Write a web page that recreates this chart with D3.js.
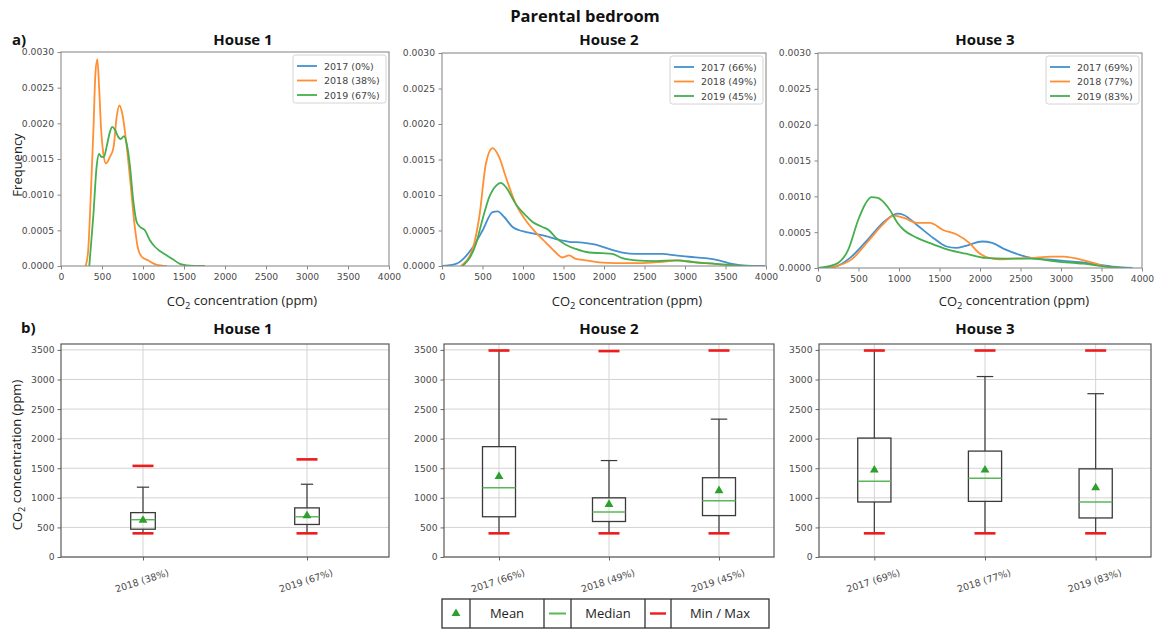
<!DOCTYPE html>
<html>
<head>
<meta charset="utf-8">
<script src="https://cdn.jsdelivr.net/npm/d3@7"></script>
<style>
  body { margin: 0; background: #fff; }
  svg { display: block; }
</style>
</head>
<body>
<svg id="chart" width="1169" height="630"></svg>
<script>
// ---------- data ----------
const houses = ["House 1", "House 2", "House 3"];
const years = ["2017", "2018", "2019"];
const seriesColors = ["#4590cf", "#ff8f33", "#45ae4d"];

// legend labels of the density plots (share of valid data per year)
const legendH1 = ["2017 (0%)", "2018 (38%)", "2019 (67%)"];
const legendH2 = ["2017 (66%)", "2018 (49%)", "2019 (45%)"];
const legendH3 = ["2017 (69%)", "2018 (77%)", "2019 (83%)"];

// kernel density estimates: [CO2 ppm, frequency]
const kdeH1_2017 = [];
const kdeH1_2018 = [[300,0],[330,0.0002],[360,0.0009],[395,0.0019],[420,0.0027],[443,0.0029],[465,0.0025],[490,0.0019],[516,0.00158],[548,0.00144],[597,0.00153],[640,0.00166],[680,0.0021],[711,0.00225],[750,0.00212],[792,0.00177],[840,0.00125],[900,0.00055],[940,0.00024],[985,0.00013],[1060,0.00008],[1160,0.00002],[1290,0]];
const kdeH1_2019 = [[345,0],[394,0.0007],[435,0.0014],[463,0.00157],[495,0.00153],[524,0.00153],[556,0.00167],[597,0.00188],[625,0.00195],[658,0.00191],[698,0.00181],[727,0.00178],[768,0.00182],[800,0.00172],[841,0.0014],[881,0.00092],[922,0.00062],[962,0.00055],[1023,0.0005],[1084,0.00036],[1145,0.00027],[1206,0.00021],[1287,0.00015],[1369,0.00009],[1450,0.00003],[1531,0.00001],[1754,0]];

const kdeH2_2017 = [[0,0],[172,0.00003],[378,0.00026],[501,0.0005],[624,0.00076],[686,0.00077],[768,0.00069],[871,0.00055],[994,0.00049],[1159,0.00045],[1282,0.00042],[1405,0.00038],[1569,0.00034],[1734,0.00033],[1898,0.0003],[2062,0.00024],[2227,0.00019],[2391,0.00017],[2555,0.00017],[2720,0.00017],[2884,0.00015],[3048,0.00013],[3254,0.00011],[3418,0.00008],[3583,0.00003],[3747,0.000005],[3985,0]];
const kdeH2_2018 = [[234,0],[378,0.00024],[460,0.00069],[542,0.00144],[624,0.00166],[707,0.00153],[789,0.00125],[912,0.00087],[1035,0.00064],[1159,0.00047],[1282,0.00033],[1405,0.00019],[1487,0.00012],[1569,0.00015],[1652,0.0001],[1775,0.00008],[1939,0.00005],[2144,0.00004],[2432,0.00004],[2720,0.00006],[2925,0.00008],[3130,0.00005],[3377,0.00003],[3541,0.00001],[3665,0]];
const kdeH2_2019 = [[255,0],[419,0.00031],[501,0.00066],[583,0.00097],[666,0.00113],[727,0.00117],[789,0.00111],[912,0.00087],[1035,0.00071],[1118,0.00062],[1241,0.00055],[1323,0.0005],[1405,0.0004],[1528,0.0003],[1652,0.00024],[1816,0.00019],[1980,0.00018],[2103,0.00017],[2227,0.00011],[2391,0.00008],[2638,0.00007],[2884,0.00008],[3130,0.00005],[3377,0.00003],[3624,0.00001],[3870,0]];

const kdeH3_2017 = [[0,0],[214,0.00002],[415,0.00016],[617,0.0004],[819,0.00065],[980,0.00076],[1060,0.00074],[1222,0.0006],[1423,0.00042],[1585,0.0003],[1706,0.00028],[1827,0.00031],[2028,0.00037],[2149,0.00035],[2310,0.00026],[2472,0.00019],[2633,0.00014],[2835,0.00012],[3036,0.0001],[3238,0.00008],[3440,0.00005],[3641,0.00002],[3883,0]];
const kdeH3_2018 = [[133,0],[415,0.00012],[617,0.00037],[778,0.00058],[940,0.00073],[1060,0.0007],[1222,0.00063],[1383,0.00063],[1544,0.00053],[1706,0.00047],[1867,0.00035],[1988,0.00021],[2109,0.00014],[2230,0.00012],[2391,0.00013],[2633,0.00014],[2875,0.00016],[3036,0.00016],[3198,0.00013],[3399,0.00007],[3560,0.00002],[3762,0]];
const kdeH3_2019 = [[0,0],[214,0.00005],[375,0.00026],[496,0.00067],[577,0.00088],[657,0.00099],[738,0.00098],[819,0.00091],[899,0.00079],[980,0.00063],[1060,0.00053],[1222,0.00042],[1423,0.00033],[1625,0.00025],[1827,0.0002],[2069,0.00014],[2310,0.00013],[2633,0.00013],[2956,0.00009],[3278,0.00006],[3560,0.00002],[3802,0]];

const kdeTicksX = [0, 500, 1000, 1500, 2000, 2500, 3000, 3500, 4000];
const kdeTicksY = [0, 0.0005, 0.001, 0.0015, 0.002, 0.0025, 0.003];

// box plot statistics (ppm)
const boxH1Labels = ["2018 (38%)", "2019 (67%)"];
const boxH1Min    = [400, 400];
const boxH1Q1     = [470, 550];
const boxH1Median = [630, 680];
const boxH1Mean   = [620, 700];
const boxH1Q3     = [750, 830];
const boxH1WhiskHi = [1180, 1230];
const boxH1Max    = [1540, 1650];

const boxH2Labels = ["2017 (66%)", "2018 (49%)", "2019 (45%)"];
const boxH2Min    = [400, 400, 400];
const boxH2Q1     = [680, 600, 700];
const boxH2Median = [1170, 760, 950];
const boxH2Mean   = [1360, 890, 1120];
const boxH2Q3     = [1865, 1000, 1340];
const boxH2WhiskHi = [3490, 1630, 2330];
const boxH2Max    = [3490, 3480, 3490];

const boxH3Labels = ["2017 (69%)", "2018 (77%)", "2019 (83%)"];
const boxH3Min    = [400, 400, 400];
const boxH3Q1     = [930, 940, 660];
const boxH3Median = [1280, 1330, 930];
const boxH3Mean   = [1470, 1470, 1170];
const boxH3Q3     = [2010, 1790, 1490];
const boxH3WhiskHi = [3490, 3050, 2760];
const boxH3Max    = [3490, 3490, 3490];

const boxTicksY = [0, 500, 1000, 1500, 2000, 2500, 3000, 3500];
const tableLabels = ["Mean", "Median", "Min / Max"];

// ---------- layout ----------
const svg = d3.select("#chart");
const TITLE_FONT = "'Open Sans', 'Liberation Sans', sans-serif";
const TICK_FONT = "'DejaVu Sans', sans-serif";

const topFrames = [
  {x0: 61, x1: 389, y0: 52, y1: 266, title: 243, xlab: 242},
  {x0: 442, x1: 766, y0: 53, y1: 266, title: 609, xlab: 627},
  {x0: 818, x1: 1142, y0: 53, y1: 268, title: 985, xlab: 1014}
];
const botFrames = [
  {x0: 61, x1: 389, y0: 344, y1: 557, title: 243},
  {x0: 444, x1: 774, y0: 344, y1: 557, title: 609},
  {x0: 819, x1: 1151, y0: 344, y1: 557, title: 985}
];

const kdeSets = [
  {series: [kdeH1_2017, kdeH1_2018, kdeH1_2019], legend: legendH1},
  {series: [kdeH2_2017, kdeH2_2018, kdeH2_2019], legend: legendH2},
  {series: [kdeH3_2017, kdeH3_2018, kdeH3_2019], legend: legendH3}
];
const boxSets = [
  {labels: boxH1Labels, min: boxH1Min, q1: boxH1Q1, med: boxH1Median, mean: boxH1Mean, q3: boxH1Q3, whi: boxH1WhiskHi, max: boxH1Max},
  {labels: boxH2Labels, min: boxH2Min, q1: boxH2Q1, med: boxH2Median, mean: boxH2Mean, q3: boxH2Q3, whi: boxH2WhiskHi, max: boxH2Max},
  {labels: boxH3Labels, min: boxH3Min, q1: boxH3Q1, med: boxH3Median, mean: boxH3Mean, q3: boxH3Q3, whi: boxH3WhiskHi, max: boxH3Max}
];

// figure title and panel letters
svg.append("text").attr("x", 585).attr("y", 22).attr("text-anchor", "middle")
  .attr("font-family", TITLE_FONT).attr("font-weight", 700).attr("font-size", 16.5)
  .attr("fill", "#111").text("Parental bedroom");
svg.append("text").attr("x", 12).attr("y", 45)
  .attr("font-family", TITLE_FONT).attr("font-weight", 700).attr("font-size", 15)
  .attr("fill", "#111").text("a)");
svg.append("text").attr("x", 21).attr("y", 333)
  .attr("font-family", TITLE_FONT).attr("font-weight", 700).attr("font-size", 15)
  .attr("fill", "#111").text("b)");

function styleAxis(g, color) {
  g.select(".domain").remove();
  g.selectAll(".tick line").attr("stroke", color).attr("stroke-width", 1);
  g.selectAll(".tick text").attr("fill", "#4a4a4a")
    .attr("font-family", TICK_FONT).attr("font-size", 9.2);
}

function co2Label(sel) {
  sel.append("tspan").text("CO");
  sel.append("tspan").attr("font-size", "0.72em").attr("dy", "0.3em").text("2");
  sel.append("tspan").attr("dy", "-0.3em").text(" concentration (ppm)");
}

// ---------- density panels ----------
topFrames.forEach((f, i) => {
  const g = svg.append("g");
  const set = kdeSets[i];
  const x = d3.scaleLinear().domain([0, 4000]).range([f.x0, f.x1]);
  const y = d3.scaleLinear().domain([0, 0.003]).range([f.y1, f.y0]);

  g.append("text").attr("x", f.title).attr("y", 45).attr("text-anchor", "middle")
    .attr("font-family", TITLE_FONT).attr("font-weight", 700).attr("font-size", 15)
    .attr("fill", "#111").text(houses[i]);

  const ax = g.append("g").attr("transform", `translate(0,${f.y1})`)
    .call(d3.axisBottom(x).tickValues(kdeTicksX).tickSize(3.5).tickPadding(3.5).tickFormat(d3.format("d")));
  styleAxis(ax, "#888");
  const ay = g.append("g").attr("transform", `translate(${f.x0},0)`)
    .call(d3.axisLeft(y).tickValues(kdeTicksY).tickSize(3.5).tickPadding(3.5).tickFormat(d3.format(".4f")));
  styleAxis(ay, "#888");

  const clipId = "clipTop" + i;
  g.append("clipPath").attr("id", clipId).append("rect")
    .attr("x", f.x0).attr("y", f.y0).attr("width", f.x1 - f.x0).attr("height", f.y1 - f.y0);

  const line = d3.line().x(d => x(d[0])).y(d => y(d[1])).curve(d3.curveMonotoneX);
  g.append("g").attr("clip-path", `url(#${clipId})`)
    .selectAll("path").data(set.series).join("path")
    .attr("d", d => d.length ? line(d) : null)
    .attr("fill", "none").attr("stroke", (d, k) => seriesColors[k])
    .attr("stroke-width", 1.8).attr("stroke-linejoin", "round");

  g.append("rect").attr("x", f.x0).attr("y", f.y0)
    .attr("width", f.x1 - f.x0).attr("height", f.y1 - f.y0)
    .attr("fill", "none").attr("stroke", "#8c8c8c").attr("stroke-width", 1.1);

  // legend
  const lx = f.x1 - 96, ly = f.y0 + 3;
  const lg = g.append("g").attr("transform", `translate(${lx},${ly})`);
  lg.append("rect").attr("width", 93).attr("height", 48).attr("rx", 2.5)
    .attr("fill", "#fff").attr("fill-opacity", 0.85).attr("stroke", "#d4d4d4");
  set.legend.forEach((lab, k) => {
    const yy = 11 + k * 14.5;
    lg.append("line").attr("x1", 4).attr("x2", 24).attr("y1", yy).attr("y2", yy)
      .attr("stroke", seriesColors[k]).attr("stroke-width", 1.8);
    lg.append("text").attr("x", 31).attr("y", yy + 3.5)
      .attr("font-family", TICK_FONT).attr("font-size", 9.5).attr("fill", "#444").text(lab);
  });

  // x axis label
  g.append("text").attr("x", f.xlab).attr("y", 306).attr("text-anchor", "middle")
    .attr("font-family", TITLE_FONT).attr("font-size", 13).attr("fill", "#222").call(co2Label);
});

// y label of density row
svg.append("text").attr("transform", "translate(22,165) rotate(-90)")
  .attr("text-anchor", "middle").attr("font-family", TITLE_FONT).attr("font-size", 13)
  .attr("fill", "#222").text("Frequency");

// ---------- box plot panels ----------
botFrames.forEach((f, i) => {
  const g = svg.append("g");
  const s = boxSets[i];
  const n = s.labels.length;
  const pos = d3.range(1, n + 1);
  const x = d3.scaleLinear().domain([0.5, n + 0.5]).range([f.x0, f.x1]);
  const y = d3.scaleLinear().domain([0, 3600]).range([f.y1, f.y0]);
  const wUnits = Math.min(0.15 * Math.max(n - 1, 1), 0.5);
  const halfW = (x(1 + wUnits) - x(1)) / 2;
  const capW = halfW / 2;
  const redHalf = 10.5;

  g.append("text").attr("x", f.title).attr("y", 334).attr("text-anchor", "middle")
    .attr("font-family", TITLE_FONT).attr("font-weight", 700).attr("font-size", 15)
    .attr("fill", "#111").text(houses[i]);

  // grid
  g.selectAll("line.hgrid").data(boxTicksY).join("line").attr("class", "hgrid")
    .attr("x1", f.x0).attr("x2", f.x1).attr("y1", d => y(d)).attr("y2", d => y(d))
    .attr("stroke", "#d3d3d3").attr("stroke-width", 1);
  g.selectAll("line.vgrid").data(pos).join("line").attr("class", "vgrid")
    .attr("x1", d => x(d)).attr("x2", d => x(d)).attr("y1", f.y0).attr("y2", f.y1)
    .attr("stroke", "#d3d3d3").attr("stroke-width", 1);

  const ay = g.append("g").attr("transform", `translate(${f.x0},0)`)
    .call(d3.axisLeft(y).tickValues(boxTicksY).tickSize(3.5).tickPadding(3).tickFormat(d3.format("d")));
  styleAxis(ay, "#666");
  const ax = g.append("g").attr("transform", `translate(0,${f.y1})`)
    .call(d3.axisBottom(x).tickValues(pos).tickSize(3.5).tickFormat(""));
  styleAxis(ax, "#666");

  pos.forEach((p, k) => {
    const cx = x(p);
    const dark = "#3a3a3a";
    // whiskers
    g.append("line").attr("x1", cx).attr("x2", cx).attr("y1", y(s.q3[k])).attr("y2", y(s.whi[k]))
      .attr("stroke", dark).attr("stroke-width", 1.2);
    g.append("line").attr("x1", cx).attr("x2", cx).attr("y1", y(s.q1[k])).attr("y2", y(s.min[k]))
      .attr("stroke", dark).attr("stroke-width", 1.2);
    [s.whi[k], s.min[k]].forEach(v => {
      g.append("line").attr("x1", cx - capW).attr("x2", cx + capW).attr("y1", y(v)).attr("y2", y(v))
        .attr("stroke", dark).attr("stroke-width", 1.2);
    });
    // box
    g.append("rect").attr("x", cx - halfW).attr("y", y(s.q3[k]))
      .attr("width", 2 * halfW).attr("height", y(s.q1[k]) - y(s.q3[k]))
      .attr("fill", "none").attr("stroke", dark).attr("stroke-width", 1.3);
    // median
    g.append("line").attr("x1", cx - halfW).attr("x2", cx + halfW)
      .attr("y1", y(s.med[k])).attr("y2", y(s.med[k]))
      .attr("stroke", "#58b858").attr("stroke-width", 1.4);
    // mean
    g.append("path").attr("d", d3.symbol(d3.symbolTriangle, 34)())
      .attr("transform", `translate(${cx},${y(s.mean[k])})`).attr("fill", "#2ca02c");
    // min / max markers
    [s.min[k], s.max[k]].forEach(v => {
      g.append("line").attr("x1", cx - redHalf).attr("x2", cx + redHalf).attr("y1", y(v)).attr("y2", y(v))
        .attr("stroke", "#ee1c1c").attr("stroke-width", 2.6);
    });
    // rotated category label
    g.append("text").attr("transform", `translate(${cx},${f.y1 + 27}) rotate(-18)`)
      .attr("text-anchor", "middle").attr("font-family", TICK_FONT).attr("font-size", 9.5)
      .attr("fill", "#4a4a4a").text(s.labels[k]);
  });

  g.append("rect").attr("x", f.x0).attr("y", f.y0)
    .attr("width", f.x1 - f.x0).attr("height", f.y1 - f.y0)
    .attr("fill", "none").attr("stroke", "#5a5a5a").attr("stroke-width", 1.2);
});

svg.append("text").attr("transform", "translate(22,455) rotate(-90)")
  .attr("text-anchor", "middle").attr("font-family", TITLE_FONT).attr("font-size", 13)
  .attr("fill", "#222").call(co2Label);

// ---------- key table ----------
const tbl = svg.append("g");
const cellEdges = [442, 470, 544, 571, 645, 671, 769];
const tY0 = 599, tY1 = 628, tMid = (tY0 + tY1) / 2;
tbl.append("rect").attr("x", cellEdges[0]).attr("y", tY0)
  .attr("width", cellEdges[6] - cellEdges[0]).attr("height", tY1 - tY0)
  .attr("fill", "#fff").attr("stroke", "#333").attr("stroke-width", 1.3);
cellEdges.slice(1, 6).forEach(e => {
  tbl.append("line").attr("x1", e).attr("x2", e).attr("y1", tY0).attr("y2", tY1)
    .attr("stroke", "#333").attr("stroke-width", 1.3);
});
tbl.append("path").attr("d", d3.symbol(d3.symbolTriangle, 34)())
  .attr("transform", `translate(${(cellEdges[0] + cellEdges[1]) / 2},${tMid})`).attr("fill", "#2ca02c");
tbl.append("line").attr("x1", cellEdges[2] + 5).attr("x2", cellEdges[3] - 5).attr("y1", tMid).attr("y2", tMid)
  .attr("stroke", "#58b858").attr("stroke-width", 2);
tbl.append("line").attr("x1", cellEdges[4] + 5).attr("x2", cellEdges[5] - 5).attr("y1", tMid).attr("y2", tMid)
  .attr("stroke", "#ee1c1c").attr("stroke-width", 2.4);
tableLabels.forEach((t, k) => {
  const a = cellEdges[2 * k + 1], b = cellEdges[2 * k + 2];
  tbl.append("text").attr("x", (a + b) / 2).attr("y", tMid + 4.5).attr("text-anchor", "middle")
    .attr("font-family", TITLE_FONT).attr("font-size", 13).attr("fill", "#222").text(t);
});
</script>
</body>
</html>
